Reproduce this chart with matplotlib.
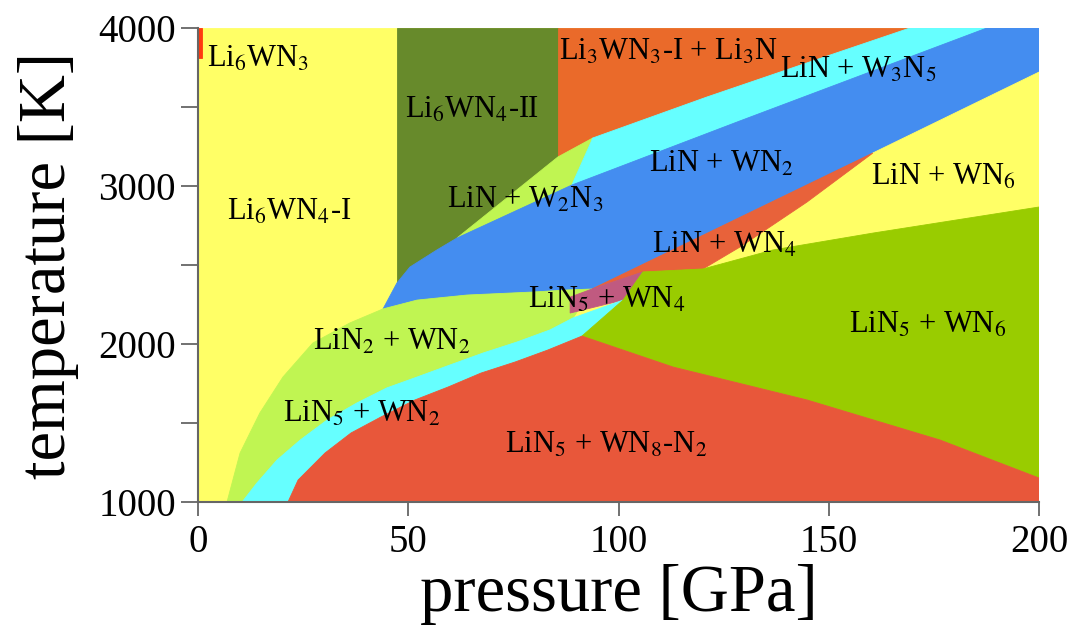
import numpy as np
import matplotlib.pyplot as plt

# phase regions of the Li-W-N system, vertices as (pressure GPa, temperature K)
P_RANGE = (0, 200)
T_RANGE = (1000, 4000)

li6wn4_1 = [(0, 1000), (0, 4000), (200, 4000), (200, 1000)]
li6wn3 = [(0, 3810), (1.0, 3810), (1.0, 4000), (0, 4000)]
li6wn4_2 = [(47.3, 2380), (85.6, 2380), (85.6, 4000), (47.3, 4000)]
li3wn3_li3n = [(85.6, 2990), (200, 2990), (200, 4000), (85.6, 4000)]
lin_w2n3 = [(61.6, 2671), (85.6, 3184), (93.9, 3304), (88.9, 3006)]
lin_w3n5 = [(88.9, 3006), (93.9, 3304), (121.0, 3563), (144.8, 3779), (169.3, 4000),
            (187.6, 4000), (128.9, 3412)]
lin_wn2 = [(44.0, 2222), (47.3, 2386), (50.4, 2487), (56.8, 2595), (61.6, 2671),
           (88.9, 3006), (128.9, 3412), (187.6, 4000), (200, 4000), (200, 3721),
           (160.5, 3209), (93.7, 2348), (87.8, 2342), (79.7, 2329), (64.0, 2310),
           (52.1, 2278)]
lin_wn6 = [(160.5, 3209), (200, 3721), (200, 2867), (160.5, 2702), (136.7, 2595),
           (120.1, 2475), (128.9, 2614), (144.8, 2898)]
lin_wn4 = [(93.7, 2348), (160.5, 3209), (144.8, 2898), (128.9, 2614), (120.1, 2475),
           (105.8, 2456)]
lin2_wn2 = [(6.9, 1000), (10.0, 1310), (14.7, 1563), (20.2, 1791), (27.3, 2006),
            (36.1, 2133), (44.0, 2222), (52.1, 2278), (64.0, 2310), (79.7, 2329),
            (87.8, 2342), (93.7, 2348), (89.2, 2165), (83.7, 2089), (75.9, 2013),
            (67.8, 1943), (59.9, 1867), (52.1, 1791), (44.9, 1722), (37.8, 1627),
            (30.7, 1519), (24.3, 1392), (18.8, 1266), (14.0, 1120), (10.5, 1000)]
lin5_wn4 = [(88.5, 2297), (93.7, 2348), (105.8, 2456), (101.1, 2278), (88.5, 2196)]
lin5_wn2 = [(10.5, 1000), (14.0, 1120), (18.8, 1266), (24.3, 1392), (30.7, 1519),
            (37.8, 1627), (44.9, 1722), (52.1, 1791), (59.9, 1867), (67.8, 1943),
            (75.9, 2013), (83.7, 2089), (89.2, 2165), (101.1, 2278), (91.3, 2050),
            (83.2, 1962), (75.4, 1886), (67.3, 1816), (59.5, 1728), (51.6, 1646),
            (43.5, 1538), (36.4, 1437), (30.2, 1310), (23.8, 1139), (21.4, 1000)]
lin5_wn6 = [(91.3, 2050), (101.1, 2278), (105.8, 2456), (120.1, 2475), (136.7, 2595),
            (160.5, 2702), (200, 2867), (200, 1152), (176.5, 1392), (144.8, 1646),
            (113.0, 1854)]
lin5_wn8 = [(21.4, 1000), (23.8, 1139), (30.2, 1310), (36.4, 1437), (43.5, 1538),
            (51.6, 1646), (59.5, 1728), (67.3, 1816), (75.4, 1886), (83.2, 1962),
            (91.3, 2050), (113.0, 1854), (144.8, 1646), (176.5, 1392), (200, 1152),
            (200, 1000)]

# drawing order matters: later regions sit on top
regions = [
    (li6wn4_1, '#ffff66'),
    (li6wn3, '#ff3a10'),
    (li6wn4_2, '#678a2b'),
    (li3wn3_li3n, '#ea6a2a'),
    (lin_w2n3, '#c0f552'),
    (lin_w3n5, '#66ffff'),
    (lin_wn2, '#448df0'),
    (lin_wn6, '#ffff66'),
    (lin_wn4, '#e8623a'),
    (lin2_wn2, '#c0f552'),
    (lin5_wn4, '#c05a80'),
    (lin5_wn2, '#66ffff'),
    (lin5_wn6, '#99cc00'),
    (lin5_wn8, '#e8573a'),
]

labels = [
    ('Li$_6$WN$_3$', 2.1, 3753, 'left'),
    ('Li$_6$WN$_4$-II', 65.2, 3430, 'center'),
    ('Li$_3$WN$_3$-I + Li$_3$N', 111.8, 3797, 'center'),
    ('LiN + W$_3$N$_5$', 157.0, 3683, 'center'),
    ('Li$_6$WN$_4$-I', 21.6, 2785, 'center'),
    ('LiN + W$_2$N$_3$', 77.8, 2861, 'center'),
    ('LiN + WN$_2$', 124.6, 3089, 'center'),
    ('LiN + WN$_6$', 177.2, 3006, 'center'),
    ('LiN + WN$_4$', 125.3, 2576, 'center'),
    ('LiN$_5$ + WN$_4$', 97.3, 2228, 'center'),
    ('LiN$_2$ + WN$_2$', 46.1, 1962, 'center'),
    ('LiN$_5$ + WN$_6$', 173.6, 2070, 'center'),
    ('LiN$_5$ + WN$_2$', 39.0, 1506, 'center'),
    ('LiN$_5$ + WN$_8$-N$_2$', 97.0, 1310, 'center'),
]

plt.rcParams['font.family'] = ['Liberation Serif', 'DejaVu Serif']
plt.rcParams['mathtext.fontset'] = 'stix'

fig = plt.figure(figsize=(10.87, 6.27), dpi=100)
ax = fig.add_axes([198 / 1087, 1 - 502 / 627, 841 / 1087, 474 / 627])

for pts, col in regions:
    pts = np.array(pts)
    ax.fill(pts[:, 0], pts[:, 1], facecolor=col, edgecolor=col, linewidth=0.6)

for txt, p, t, ha in labels:
    ax.text(p, t, txt, fontsize=22, ha=ha, va='baseline', color='black')

ax.set_xlim(*P_RANGE)
ax.set_ylim(*T_RANGE)
ax.set_xticks([0, 50, 100, 150, 200])
ax.set_yticks([1000, 2000, 3000, 4000])
ax.set_yticks([1500, 2500, 3500], minor=True)
ax.tick_params(axis='both', labelsize=28, color='#666666', width=1.3)
ax.tick_params(axis='x', length=10, pad=6)
ax.tick_params(axis='y', which='both', length=12, width=1.3, color='#666666', pad=4)

for s in ['top', 'right']:
    ax.spines[s].set_visible(False)
for s in ['left', 'bottom']:
    ax.spines[s].set_color('#666666')
    ax.spines[s].set_linewidth(1.5)

ax.set_xlabel('pressure [GPa]', fontsize=48, labelpad=2)
ax.set_ylabel('temperature [K]', fontsize=48, labelpad=14)

fig.savefig('out.png', dpi=100)
